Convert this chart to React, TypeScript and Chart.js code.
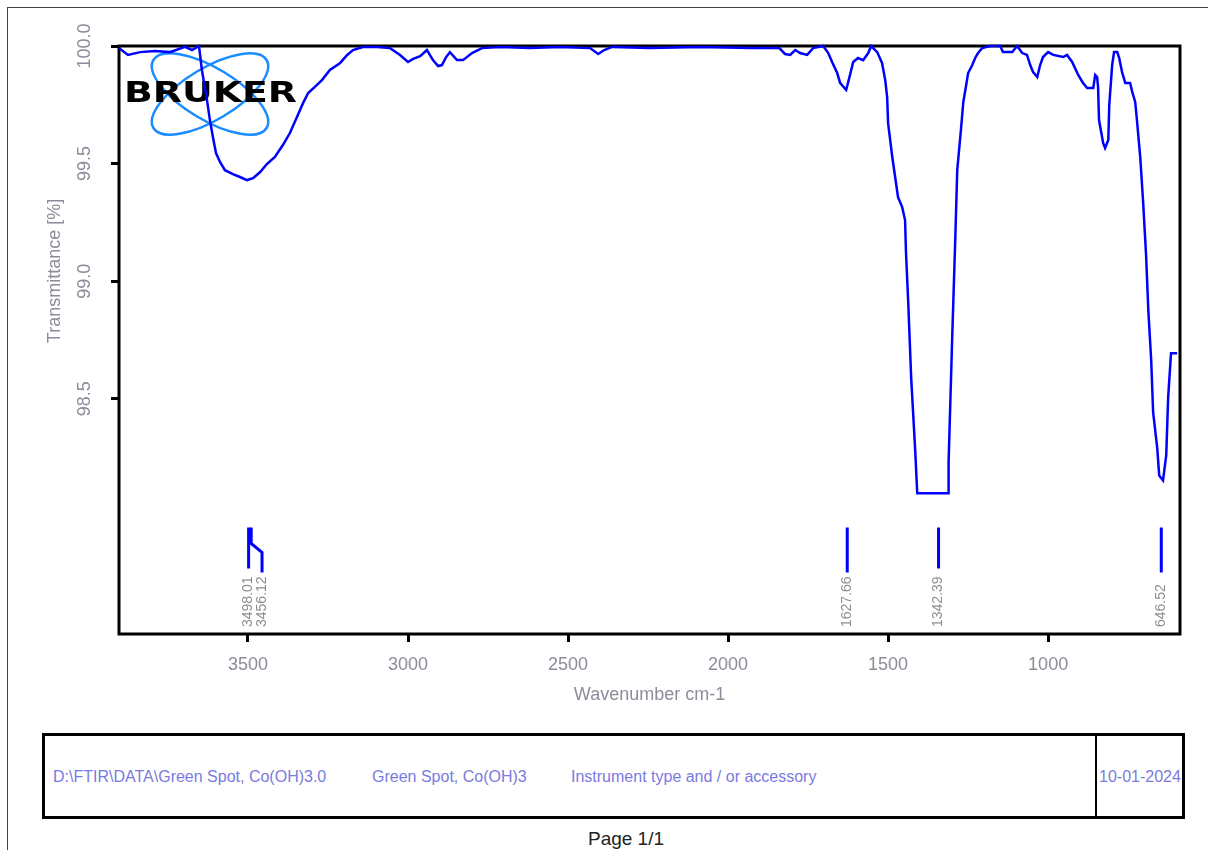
import React, { useEffect, useRef } from 'react';
import { Chart, registerables } from 'chart.js';

Chart.register(...registerables);

// ---- Spectrum data (wavenumber cm-1, transmittance %) ----
const wavenumbers = [
  3903, 3875, 3837, 3790, 3744, 3697, 3675, 3653, 3644, 3628, 3619, 3609, 3600, 3587, 3572, 3547,
  3525, 3503, 3484, 3462, 3441, 3416, 3391, 3369, 3347, 3328, 3312, 3291, 3269, 3244, 3212, 3190,
  3172, 3141, 3097, 3056, 3025, 3000, 2984, 2962, 2941, 2922, 2906, 2894, 2881, 2869, 2847, 2828,
  2800, 2769, 2712, 2619, 2525, 2431, 2406, 2387, 2362, 2244, 2087, 1931, 1840, 1822, 1806, 1790,
  1775, 1753, 1734, 1703, 1687, 1675, 1659, 1650, 1631, 1619, 1609, 1594, 1578, 1562, 1553, 1534,
  1519, 1509, 1503, 1500, 1487, 1478, 1469, 1456, 1447, 1444, 1437, 1428, 1415, 1409, 1312, 1311,
  1300, 1290, 1284, 1272, 1265, 1256, 1250, 1237, 1228, 1219, 1206, 1181, 1150, 1141, 1112, 1097,
  1081, 1066, 1056, 1047, 1034, 1025, 1016, 1000, 984, 953, 941, 925, 916, 906, 891, 878,
  859, 853, 847, 844, 841, 828, 822, 812, 809, 800, 794, 784, 778, 769, 759, 744,
  737, 728, 722, 712, 703, 694, 687, 678, 672, 659, 653, 641, 631, 625, 616, 597,
];
const transmittance = [
  99.991, 99.962, 99.974, 99.979, 99.974, 99.996, 99.983, 100.0, 99.898, 99.77, 99.685, 99.609, 99.545, 99.506, 99.472, 99.455,
  99.443, 99.43, 99.438, 99.464, 99.498, 99.528, 99.579, 99.63, 99.698, 99.757, 99.8, 99.826, 99.855, 99.898, 99.928, 99.962,
  99.983, 99.996, 99.996, 99.991, 99.962, 99.932, 99.945, 99.957, 99.983, 99.94, 99.915, 99.919, 99.953, 99.974, 99.94, 99.94,
  99.97, 99.991, 99.996, 99.991, 99.996, 99.991, 99.966, 99.983, 99.996, 99.991, 99.996, 99.991, 99.991, 99.966, 99.962, 99.983,
  99.97, 99.962, 99.991, 100.0, 99.97, 99.932, 99.885, 99.843, 99.813, 99.877, 99.932, 99.949, 99.94, 99.97, 100.0, 99.974,
  99.928, 99.855, 99.783, 99.672, 99.528, 99.443, 99.357, 99.315, 99.26, 99.119, 98.906, 98.591, 98.272, 98.098, 98.098, 98.23,
  98.749, 99.187, 99.472, 99.651, 99.762, 99.834, 99.885, 99.919, 99.949, 99.97, 99.991, 100.0, 100.0, 99.974, 99.974, 100.0,
  99.97, 99.962, 99.919, 99.889, 99.868, 99.919, 99.953, 99.974, 99.962, 99.953, 99.962, 99.932, 99.906, 99.877, 99.843, 99.821,
  99.821, 99.877, 99.868, 99.826, 99.685, 99.587, 99.566, 99.6, 99.749, 99.919, 99.974, 99.974, 99.949, 99.889, 99.843, 99.843,
  99.804, 99.762, 99.677, 99.523, 99.332, 99.111, 98.877, 98.664, 98.443, 98.289, 98.174, 98.153, 98.26, 98.506, 98.694, 98.694,
];

// ---- Axes ----
const xMin = 588;
const xMax = 3903;
const yMin = 97.5;
const yMax = 100.0;
const xTickValues = [3500, 3000, 2500, 2000, 1500, 1000];
const yTickValues = [98.5, 99.0, 99.5, 100.0];
const xAxisTitle = 'Wavenumber cm-1';
const yAxisTitle = 'Transmittance [%]';

// ---- Peak picking ----
const peakWavenumbers = [3498.01, 3456.12, 1627.66, 1342.39, 646.52];
const peakLabels = ['3498.01', '3456.12', '1627.66', '1342.39', '646.52'];
const peakLeaderStart = [3498.01, 3490, 1627.66, 1342.39, 646.52];
const peakMarkerTop = 97.953;
const peakKinkUpper = 97.885;
const peakKinkLower = 97.847;
const peakMarkerBottom = [97.779, 97.762, 97.762, 97.779, 97.762];

// ---- Footer ----
const footerPath = 'D:\\FTIR\\DATA\\Green Spot, Co(OH)3.0';
const footerSample = 'Green Spot, Co(OH)3';
const footerInstrument = 'Instrument type and / or accessory';
const footerDate = '10-01-2024';
const pageLabel = 'Page 1/1';

const LABEL_GREY = '#8c8c9a';
const FONT = '"Liberation Sans", Arial, sans-serif';

function drawLogo(ctx: CanvasRenderingContext2D, left: number, top: number) {
  ctx.save();
  const cx = left + 91;
  const cy = top + 48;
  ctx.strokeStyle = '#1a8cff';
  ctx.lineWidth = 2.5;
  [31, -31].forEach((deg) => {
    ctx.beginPath();
    ctx.ellipse(cx, cy, 66, 26, (deg * Math.PI) / 180, 0, Math.PI * 2);
    ctx.stroke();
  });
  // BRUKER word
  ctx.fillStyle = '#000';
  ctx.font = 'bold 28px "DejaVu Sans", sans-serif';
  ctx.textBaseline = 'alphabetic';
  ctx.textAlign = 'left';
  const w = ctx.measureText('BRUKER').width;
  ctx.translate(left + 5, top + 56);
  ctx.scale(173 / w, 1);
  ctx.fillText('BRUKER', 0, 0);
  ctx.restore();
}

const decorPlugin = {
  id: 'decor',
  beforeDatasetsDraw(chart: any) {
    const { ctx, chartArea: a } = chart;
    ctx.save();
    drawLogo(ctx, a.left, a.top);
    ctx.strokeStyle = '#000';
    ctx.lineWidth = 3;
    ctx.strokeRect(a.left, a.top, a.right - a.left, a.bottom - a.top);
    ctx.restore();
  },
  afterDraw(chart: any) {
    const { ctx, chartArea: a, scales } = chart;
    const xs = scales.x;
    const ys = scales.y;
    ctx.save();
    ctx.fillStyle = LABEL_GREY;
    ctx.font = `18px ${FONT}`;
    ctx.textAlign = 'center';
    ctx.textBaseline = 'middle';
    ys.ticks.forEach((t: any) => {
      const py = ys.getPixelForValue(t.value);
      ctx.save();
      ctx.translate(a.left - 34, py);
      ctx.rotate(-Math.PI / 2);
      ctx.fillText(Number(t.value).toFixed(1), 0, 0);
      ctx.restore();
    });
    // y title
    ctx.save();
    ctx.translate(a.left - 64, a.top + 225);
    ctx.rotate(-Math.PI / 2);
    ctx.fillText(yAxisTitle, 0, 0);
    ctx.restore();
    // x title
    ctx.fillText(xAxisTitle, (a.left + a.right) / 2, a.bottom + 61);
    // peak labels
    ctx.font = `14px ${FONT}`;
    ctx.fillStyle = '#8f8f8f';
    ctx.textAlign = 'left';
    peakWavenumbers.forEach((wn, i) => {
      const px = xs.getPixelForValue(wn);
      ctx.save();
      ctx.translate(px, a.bottom - 7);
      ctx.rotate(-Math.PI / 2);
      ctx.fillText(peakLabels[i], 0, 0);
      ctx.restore();
    });
    ctx.restore();
  },
};

function SpectrumChart() {
  const ref = useRef<HTMLCanvasElement | null>(null);
  useEffect(() => {
    if (!ref.current) return;
    const spectrum = wavenumbers.map((wn, i) => ({ x: wn, y: transmittance[i] }));
    const markerSets = peakWavenumbers.map((wn, i) => ({
      label: peakLabels[i],
      data: [
        { x: peakLeaderStart[i], y: peakMarkerTop },
        { x: peakLeaderStart[i], y: peakKinkUpper },
        { x: wn, y: peakKinkLower },
        { x: wn, y: peakMarkerBottom[i] },
      ],
      borderColor: '#0000ff',
      borderWidth: 3,
      pointRadius: 0,
      tension: 0,
      clip: false as any,
    }));
    const chart = new Chart(ref.current, {
      type: 'line',
      data: {
        datasets: [
          {
            label: 'Spectrum',
            data: spectrum,
            borderColor: '#0000ff',
            borderWidth: 2.5,
            pointRadius: 0,
            tension: 0,
            clip: false as any,
          },
          ...markerSets,
        ],
      },
      options: {
        animation: false,
        responsive: false,
        parsing: true,
        layout: { padding: { left: 59, top: 46, right: 28, bottom: 26 } },
        plugins: { legend: { display: false }, tooltip: { enabled: false }, title: { display: false } },
        scales: {
          x: {
            type: 'linear',
            reverse: true,
            min: xMin,
            max: xMax,
            afterBuildTicks: (s: any) => {
              s.ticks = xTickValues.map((v) => ({ value: v }));
            },
            afterFit: (s: any) => {
              s.height = 60;
              s.paddingLeft = 0;
              s.paddingRight = 0;
              s.paddingTop = 0;
              s.paddingBottom = 0;
            },
            ticks: {
              autoSkip: false,
              maxRotation: 0,
              minRotation: 0,
              padding: 12,
              color: LABEL_GREY,
              font: { family: FONT, size: 18 },
              callback: (v: any) => String(v),
            },
            grid: {
              drawOnChartArea: false,
              drawTicks: true,
              tickLength: 8,
              tickWidth: 3,
              tickColor: '#000',
            },
            border: { display: false },
          },
          y: {
            type: 'linear',
            min: yMin,
            max: yMax,
            afterBuildTicks: (s: any) => {
              s.ticks = yTickValues.map((v) => ({ value: v }));
            },
            afterFit: (s: any) => {
              s.width = 60;
              s.paddingLeft = 0;
              s.paddingRight = 0;
              s.paddingTop = 0;
              s.paddingBottom = 0;
            },
            ticks: { display: false },
            grid: {
              drawOnChartArea: false,
              drawTicks: true,
              tickLength: 8,
              tickWidth: 3,
              tickColor: '#000',
            },
            border: { display: false },
          },
        },
      },
      plugins: [decorPlugin],
    });
    return () => chart.destroy();
  }, []);
  return (
    <canvas
      ref={ref}
      width={1208}
      height={720}
      style={{ position: 'absolute', left: 0, top: 0, width: 1208, height: 720 }}
    />
  );
}

export default function App() {
  useEffect(() => {
    document.body.style.margin = '0';
    document.body.style.overflow = 'hidden';
  }, []);
  const footText: React.CSSProperties = {
    position: 'absolute',
    top: 767,
    height: 20,
    lineHeight: '20px',
    fontFamily: FONT,
    fontSize: 16,
    color: '#7a7ae0',
    whiteSpace: 'nowrap',
  };
  return (
    <div style={{ position: 'relative', width: 1208, height: 850, overflow: 'hidden', background: '#fff' }}>
      <div
        style={{
          position: 'absolute',
          left: 7,
          top: 7,
          width: 1210,
          height: 850,
          borderLeft: '1.5px solid #444',
          borderTop: '1.5px solid #444',
        }}
      />
      <SpectrumChart />
      <div
        style={{
          position: 'absolute',
          left: 42,
          top: 733,
          width: 1143,
          height: 86,
          boxSizing: 'border-box',
          border: '3px solid #000',
        }}
      />
      <div style={{ position: 'absolute', left: 1095, top: 735, width: 1.5, height: 82, background: '#000' }} />
      <div style={{ ...footText, left: 53 }}>{footerPath}</div>
      <div style={{ ...footText, left: 372 }}>{footerSample}</div>
      <div style={{ ...footText, left: 571 }}>{footerInstrument}</div>
      <div style={{ ...footText, left: 1099 }}>{footerDate}</div>
      <div
        style={{
          position: 'absolute',
          left: 0,
          width: 1252,
          top: 828,
          height: 22,
          lineHeight: '22px',
          textAlign: 'center',
          fontFamily: FONT,
          fontSize: 19,
          color: '#222',
        }}
      >
        {pageLabel}
      </div>
    </div>
  );
}
